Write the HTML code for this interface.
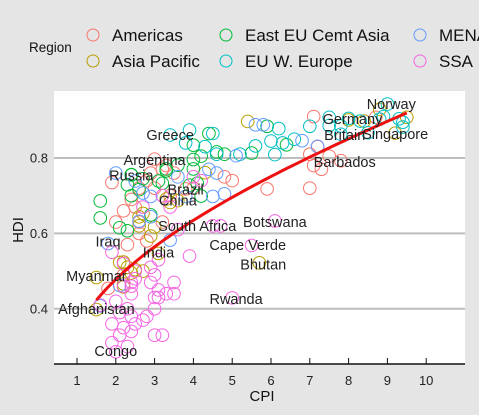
<!DOCTYPE html>
<html><head><meta charset="utf-8"><style>
body{margin:0;background:#e5e5e5;}
svg{display:block;font-family:"Liberation Sans",Arial,sans-serif;}
</style></head><body>
<svg id="chart" width="479" height="415" viewBox="0 0 479 415">
<rect x="0" y="0" width="479" height="415" fill="#e5e5e5"/>
<g>
<text x="29" y="52" font-size="13.5" fill="#111">Region</text>
<g><circle cx="93" cy="35" r="6" fill="none" stroke="#F8766D"/><text x="112" y="41" font-size="17" fill="#111">Americas</text></g>
<g><circle cx="93" cy="61" r="6" fill="none" stroke="#B79F00"/><text x="112" y="67" font-size="17" fill="#111">Asia Pacific</text></g>
<g><circle cx="226" cy="35" r="6" fill="none" stroke="#00BA38"/><text x="245" y="41" font-size="17" fill="#111">East EU Cemt Asia</text></g>
<g><circle cx="226" cy="61" r="6" fill="none" stroke="#00BFC4"/><text x="245" y="67" font-size="17" fill="#111">EU W. Europe</text></g>
<g><circle cx="420" cy="35" r="6" fill="none" stroke="#619CFF"/><text x="439" y="41" font-size="17" fill="#111">MENA</text></g>
<g><circle cx="420" cy="61" r="6" fill="none" stroke="#F564E3"/><text x="439" y="67" font-size="17" fill="#111">SSA</text></g>
</g>
<rect x="54" y="91" width="411" height="273" fill="#fff"/>
<g id="grid"></g><g id="pts"></g><g id="trend"></g><g id="labels"></g><g id="axes"></g>
<text x="262" y="401" font-size="15" text-anchor="middle" fill="#111">CPI</text>
<text x="0" y="0" font-size="15" text-anchor="middle" fill="#111" transform="translate(23,230) rotate(-90)">HDI</text>
</svg>
<script>
const xTicks=[1,2,3,4,5,6,7,8,9,10];
const yTicks=[0.4,0.6,0.8];
const regions=["Americas","Asia Pacific","East EU Cemt Asia","EU W. Europe","MENA","SSA"];
const americas=[[1.9,0.735],[3.0,0.797],[3.3,0.78],[3.2,0.77],[2.9,0.76],[2.6,0.72],[2.8,0.74],[3.0,0.72],[3.4,0.70],[3.8,0.718],[2.5,0.67],[2.4,0.69],[2.2,0.66],[2.6,0.63],[2.6,0.60],[2.3,0.57],[2.8,0.58],[3.2,0.63],[4.0,0.72],[4.8,0.75],[5.0,0.74],[5.9,0.718],[7.0,0.72],[7.1,0.78],[7.8,0.793],[7.3,0.77],[7.5,0.805],[7.2,0.83],[7.1,0.91],[8.7,0.908],[7.0,0.81],[1.8,0.454],[2.2,0.49],[3.5,0.76],[2.0,0.63]];
const asiaPacific=[[9.2,0.866],[9.5,0.908],[8.8,0.929],[8.0,0.901],[8.4,0.898],[5.4,0.897],[3.6,0.687],[3.1,0.547],[5.7,0.522],[1.5,0.483],[1.5,0.398],[2.7,0.50],[2.5,0.504],[2.2,0.458],[3.0,0.617],[2.6,0.644],[2.9,0.593],[3.4,0.682],[4.3,0.761],[3.3,0.691],[2.1,0.523],[2.2,0.524],[2.2,0.466],[2.7,0.653],[2.4,0.495],[2.6,0.62],[2.3,0.51]];
const eastEU=[[2.4,0.755],[2.3,0.729],[2.7,0.745],[2.4,0.756],[4.1,0.733],[2.6,0.716],[2.4,0.70],[1.6,0.641],[1.6,0.686],[2.3,0.607],[2.1,0.615],[2.9,0.649],[3.3,0.766],[4.0,0.796],[3.3,0.771],[3.6,0.781],[3.9,0.728],[3.2,0.733],[3.1,0.739],[4.0,0.771],[4.2,0.699],[5.5,0.813],[4.6,0.816],[4.2,0.805],[4.8,0.81],[4.0,0.834],[4.4,0.865],[6.4,0.835],[5.9,0.884]];
const euWEurope=[[9.0,0.943],[9.4,0.895],[9.4,0.882],[9.3,0.904],[8.9,0.91],[8.8,0.903],[7.8,0.885],[8.0,0.905],[7.5,0.908],[7.8,0.863],[7.5,0.886],[7.0,0.884],[8.3,0.898],[8.5,0.867],[6.2,0.878],[6.1,0.809],[6.3,0.84],[5.6,0.832],[3.9,0.874],[3.4,0.861],[4.3,0.83],[4.6,0.81],[3.8,0.84],[4.5,0.865],[5.2,0.81],[6.0,0.845],[6.6,0.85]];
const mena=[[7.2,0.831],[6.8,0.846],[5.8,0.888],[5.1,0.806],[4.8,0.705],[4.6,0.76],[4.4,0.77],[4.5,0.698],[3.8,0.698],[2.5,0.739],[2.7,0.707],[2.9,0.644],[3.4,0.582],[2.6,0.632],[2.9,0.698],[2.0,0.76],[1.8,0.573],[2.1,0.462],[1.6,0.408],[5.6,0.888],[3.6,0.75]];
const ssa=[[2.0,0.286],[1.9,0.31],[2.1,0.33],[2.2,0.35],[2.4,0.34],[2.5,0.36],[2.7,0.37],[2.8,0.38],[3.0,0.33],[3.2,0.33],[2.4,0.38],[2.3,0.30],[1.9,0.36],[2.1,0.39],[2.3,0.40],[2.0,0.42],[3.0,0.40],[3.0,0.43],[2.4,0.44],[2.4,0.46],[2.4,0.47],[2.5,0.48],[2.9,0.47],[3.0,0.49],[3.1,0.45],[3.3,0.44],[3.5,0.44],[3.5,0.47],[2.9,0.51],[3.1,0.53],[3.1,0.43],[1.9,0.55],[2.2,0.52],[2.5,0.50],[2.2,0.46],[1.6,0.41],[3.9,0.54],[5.0,0.429],[5.5,0.568],[6.1,0.633],[4.5,0.62],[4.7,0.62],[3.6,0.61],[4.2,0.74],[4.0,0.75],[3.2,0.70],[3.4,0.67],[2.7,0.67]];
const labelNames=["Norway","Germany","Britain","Singapore","Barbados","Greece","Argentina","Russia","Brazil","China","South Africa","Botswana","Cape Verde","Bhutan","Rwanda","India","Iraq","Myanmar","Afghanistan","Congo"];
const labelX=[9.1,8.1,7.9,9.2,7.9,3.4,3.0,2.4,3.8,3.6,4.1,6.1,5.4,5.8,5.1,3.1,1.8,1.5,1.5,2.0];
const labelY=[0.943,0.903,0.861,0.863,0.79,0.861,0.795,0.753,0.716,0.687,0.619,0.63,0.569,0.518,0.426,0.55,0.579,0.487,0.399,0.288];
const trendA=0.3216, trendB=0.0299, trendC=0.1395, trendMin=1.5, trendMax=9.5;
const colors=["#F8766D","#B79F00","#00BA38","#00BFC4","#619CFF","#F564E3"];
const series=[americas,asiaPacific,eastEU,euWEurope,mena,ssa];
const NS="http://www.w3.org/2000/svg";
const xs=v=>77+(v-1)*38.8;
const ys=v=>158-(v-0.8)*377;
function mk(tag,attrs,parent){const e=document.createElementNS(NS,tag);for(const k in attrs)e.setAttribute(k,attrs[k]);parent.appendChild(e);return e;}
const grid=document.getElementById('grid'),axes=document.getElementById('axes');
yTicks.forEach(t=>{
 const l=mk('line',{x1:54,x2:465,y1:ys(t),y2:ys(t),stroke:'#bebebe','stroke-width':2},grid);
 
 
 const tx=mk('text',{x:48,y:ys(t)+4.5,'font-size':13,'text-anchor':'end',fill:'#222'},axes);
 tx.textContent=t.toFixed(1);
 
 
});
const ax=mk('line',{x1:54,x2:465,y1:364,y2:364,stroke:'#111','stroke-width':1.5},axes);


xTicks.forEach(t=>{
 const k=mk('line',{x1:xs(t),x2:xs(t),y1:358,y2:364,stroke:'#111'},axes);
 
 
 const tx=mk('text',{x:xs(t),y:385,'font-size':13,'text-anchor':'middle',fill:'#222'},axes);
 tx.textContent=t;
 
 
});
const pts=document.getElementById('pts');
series.forEach((s,i)=>s.forEach(p=>{
 const c=mk('circle',{cx:xs(p[0]),cy:ys(p[1]),r:6.3,fill:'none',stroke:colors[i],'stroke-width':1},pts);
 
 
}));
let d='';
for(let i=0;i<=60;i++){const x=trendMin+(trendMax-trendMin)*i/60;const y=trendA+trendB*x+trendC*Math.log(x);d+=(i?'L':'M')+xs(x).toFixed(1)+','+ys(y).toFixed(1);}
const tr=mk('path',{d:d,fill:'none',stroke:'#ee1111','stroke-width':3},document.getElementById('trend'));


const lg=document.getElementById('labels');
labelNames.forEach((n,i)=>{
 const t=mk('text',{x:xs(labelX[i]),y:ys(labelY[i])+5,'font-size':14.5,'text-anchor':'middle',fill:'#222'},lg);
 t.textContent=n;
 
 
});
</script>
</body></html>
